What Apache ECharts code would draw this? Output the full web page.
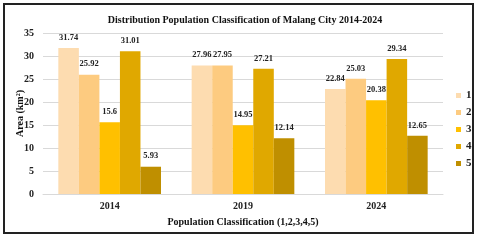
<!DOCTYPE html>
<html><head><meta charset="utf-8">
<script src="https://cdn.jsdelivr.net/npm/echarts@6/dist/echarts.min.js"></script>
<style>html,body{margin:0;padding:0;background:#fff}#c{width:480px;height:240px}</style>
</head><body><div id="c"></div>
<script>
const categories = ['2014', '2019', '2024'];
const seriesNames = ['1', '2', '3', '4', '5'];
const s1 = [31.74, 27.96, 22.84];
const s2 = [25.92, 27.95, 25.03];
const s3 = [15.6, 14.95, 20.38];
const s4 = [31.01, 27.21, 29.34];
const s5 = [5.93, 12.14, 12.65];
const values = [s1, s2, s3, s4, s5];
const colors = ['#FDDCB0', '#FDCB80', '#FFC000', '#E0A800', '#BF8F00'];
const font = '"Liberation Serif", "Times New Roman", serif';

const chart = echarts.init(document.getElementById('c'), null, {renderer: 'canvas'});
chart.setOption({
  animation: false,
  backgroundColor: '#fff',
  color: colors,
  title: {
    text: 'Distribution Population Classification of Malang City 2014-2024',
    left: 240, top: 10, textAlign: 'center',
    textStyle: {fontFamily: font, fontWeight: 'bold', fontSize: 10, color: '#111'}
  },
  legend: {
    orient: 'vertical', left: 456, top: 90, itemWidth: 5, itemHeight: 5, itemGap: 6,
    icon: 'rect', padding: 0,
    textStyle: {fontFamily: font, fontWeight: 'bold', fontSize: 11, color: '#222'},
    data: seriesNames
  },
  grid: {left: 43, top: 33, width: 400, height: 161, containLabel: false},
  xAxis: {
    type: 'category', data: categories,
    axisLine: {lineStyle: {color: '#d9d9d9'}},
    axisTick: {show: false},
    axisLabel: {fontFamily: font, fontWeight: 'bold', fontSize: 10, color: '#222', margin: 7},
    name: 'Population Classification (1,2,3,4,5)', nameLocation: 'middle', nameGap: 23,
    nameMoveOverlap: false,
    nameTextStyle: {fontFamily: font, fontWeight: 'bold', fontSize: 10, color: '#111'}
  },
  yAxis: {
    type: 'value', min: 0, max: 35, interval: 5,
    axisLine: {show: false}, axisTick: {show: false},
    splitLine: {lineStyle: {color: '#d9d9d9'}},
    axisLabel: {fontFamily: font, fontWeight: 'bold', fontSize: 10, color: '#222', margin: 9},
    name: 'Area (km²)', nameLocation: 'middle', nameGap: 18,
    nameMoveOverlap: false,
    nameTextStyle: {fontFamily: font, fontWeight: 'bold', fontSize: 10, color: '#111'}
  },
  graphic: [{
    type: 'rect', shape: {x: 4, y: 4, width: 469, height: 229}, z: -1,
    style: {fill: 'none', stroke: '#222', lineWidth: 2}, silent: true
  }],
  series: values.map((v, i) => ({
    name: seriesNames[i], type: 'bar', data: v,
    barGap: '0%', barCategoryGap: '23%',
    label: {show: true, position: 'top', distance: 6, fontFamily: font, fontWeight: 'bold', fontSize: 8.5, color: '#222'}
  }))
});
</script></body></html>
